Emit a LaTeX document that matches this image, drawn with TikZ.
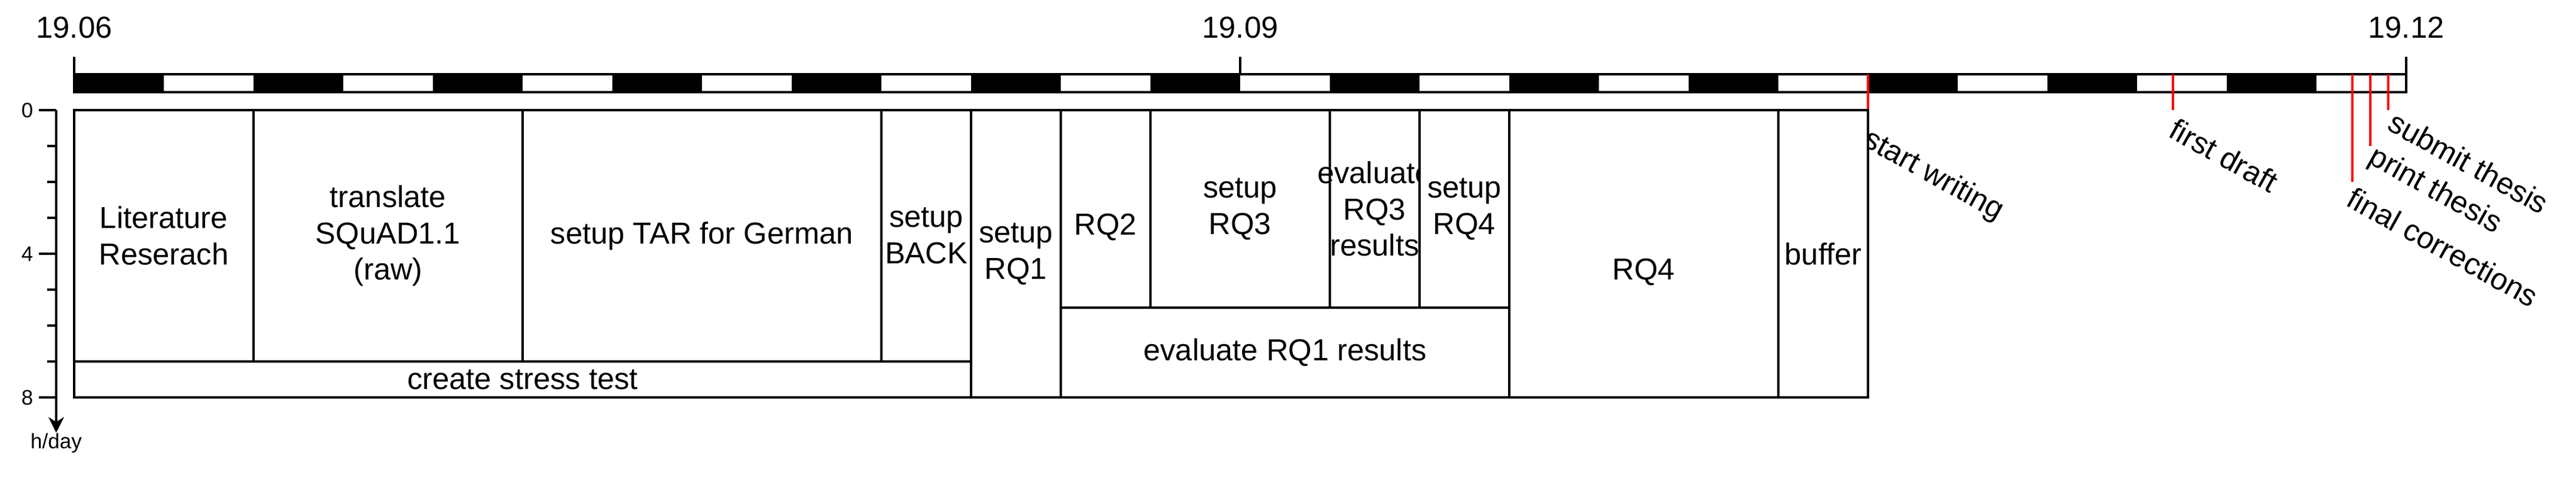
\documentclass[tikz,border=0pt]{standalone}
\usepackage{fontspec}
\setmainfont{Liberation Sans}
\usetikzlibrary{positioning,calc,arrows.meta}
\tikzset{font=\fontsize{12.67}{15.2}\selectfont}

% one block of work: [text options]{name}{x0}{h0}{x1}{h1}{text}
\newcommand{\plantask}[7][]{%
	\draw[taskbox] (#3,#4) rectangle (#5,#6);
	\node[tasktext,#1] (#2) at ($(#3,#4)!0.5!(#5,#6)$) {#7};
}

\begin{document}
\begin{tikzpicture}[x=37.5pt, y=-15pt, line width=0.8pt,
		taskbox/.style={draw, fill=white},
		tasktext/.style={align=center, inner sep=0pt},
		mstone/.style={draw=red},
		mslabel/.style={anchor=base west, rotate=-29, inner sep=0pt},
		datelabel/.style={anchor=base, inner sep=0pt},
		axislabel/.style={font=\fontsize{8.75}{10.5}\selectfont, inner sep=0pt}]
	\useasboundingbox (-0.82667,-3.06667) rectangle (27.89333,10.2);

	% weeks
	\foreach \w in {0,2,...,24}
		\fill (\w,-1) rectangle (\w+1,-0.5);
	\draw (0,-1) rectangle (26,-0.5);

	% months
	\foreach \w/\d in {0/19.06, 13/19.09, 26/19.12}{
		\draw (\w,-1.483) -- (\w,-1);
		\node[datelabel] (d\w) at (\w,-2.0167) {\d};
	}

	% milestones
	\foreach \x/\e/\lx/\ly/\t [count=\i] in {20/0/19.92/0.967/start writing,
			23.4/0/23.327/0.717/first draft,
			25.4/2/25.307/2.633/final corrections,
			25.6/1/25.553/1.45/print thesis,
			25.8/0/25.767/0.517/submit thesis}{
		\draw[mstone] (\x,-1) -- (\x,\e);
		\node[mslabel] (ms\i) at (\lx,\ly) {\t};
	}

	% tasks
	\plantask{lit}{0}{0}{2}{7}{Literature\\Reserach}
	\plantask{squad}{2}{0}{5}{7}{translate\\SQuAD1.1\\(raw)}
	\plantask{tar}{5}{0}{9}{7}{setup TAR for German}
	\plantask{back}{9}{0}{10}{7}{setup\\BACK}
	\plantask{stress}{0}{7}{10}{8}{create stress test}
	\plantask{rqone}{10}{0}{11}{8}{setup\\RQ1}
	\plantask[yshift=-7.6pt]{rqtwo}{11}{0}{12}{5.5}{RQ2}
	\plantask{rqthree}{12}{0}{14}{5.5}{setup\\RQ3}
	\plantask{evthree}{14}{0}{15}{5.5}{evaluate\\RQ3\\results}
	\plantask{setfour}{15}{0}{16}{5.5}{setup\\RQ4}
	\plantask{evone}{11}{5.5}{16}{8}{evaluate RQ1 results}
	\plantask[yshift=-7.6pt]{rqfour}{16}{0}{19}{8}{RQ4}
	\plantask{buffer}{19}{0}{20}{8}{buffer}

	% hours per day
	\coordinate (h0) at (-0.2,0);
	\foreach \h in {1,2,3,5,6,7}
		\draw (-0.3,\h) -- (-0.2,\h);
	\foreach \h in {0,4,8}{
		\draw (-0.3933,\h) -- (-0.2,\h);
		\node[axislabel, anchor=east] (t\h) at (-0.4467,\h) {\h};
	}
	\node[axislabel, anchor=north] (hday) at (-0.2,8.983) {h/day};
	\draw[-{Stealth[length=6.5pt,width=6.5pt,inset=2pt]}] (h0) -- (hday.north);
\end{tikzpicture}
\end{document}
